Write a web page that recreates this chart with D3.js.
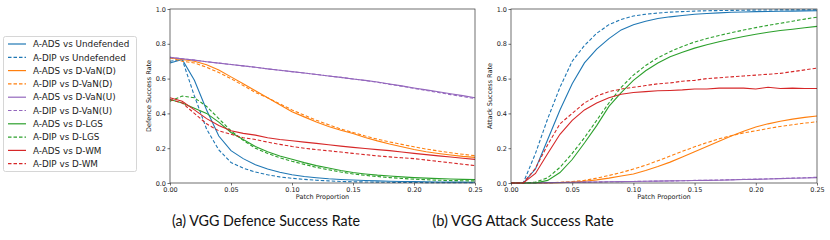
<!DOCTYPE html>
<html>
<head>
<meta charset="utf-8">
<script src="https://cdn.jsdelivr.net/npm/d3@7"></script>
<style>
body { margin: 0; background: #fff; }
.axis text { font-family: "DejaVu Sans", sans-serif; font-size: 6.5px; fill: #222; }
.axis path { display: none; }
.axis line { stroke: #333; stroke-width: 0.7; }
</style>
</head>
<body>
<div class="chart"></div>
<script>
// patch proportion (x values)
var patch = [0, 0.01, 0.02, 0.03, 0.04, 0.05, 0.06, 0.07, 0.08, 0.09, 0.10, 0.11, 0.12,
             0.13, 0.14, 0.15, 0.16, 0.17, 0.18, 0.19, 0.20, 0.21, 0.22, 0.23, 0.24, 0.25];

var seriesNames = ["A-ADS vs Undefended", "A-DIP vs Undefended", "A-ADS vs D-VaN(D)", "A-DIP vs D-VaN(D)",
    "A-ADS vs D-VaN(U)", "A-DIP vs D-VaN(U)", "A-ADS vs D-LGS", "A-DIP vs D-LGS", "A-ADS vs D-WM", "A-DIP vs D-WM"];
var seriesColors = ["#1f77b4", "#1f77b4", "#ff7f0e", "#ff7f0e", "#9467bd", "#9467bd",
    "#2ca02c", "#2ca02c", "#d62728", "#d62728"];
var seriesDashed = [false, true, false, true, false, true, false, true, false, true];

var xTicks = [0, 0.05, 0.10, 0.15, 0.20, 0.25];
var yTicks = [0, 0.2, 0.4, 0.6, 0.8, 1.0];

// (a) defence success rate
var defAdsUndef = [0.69, 0.71, 0.59, 0.42, 0.27, 0.186, 0.14, 0.105, 0.08, 0.062, 0.047, 0.037, 0.03, 0.024, 0.02, 0.017, 0.014, 0.012, 0.01, 0.009, 0.008, 0.007, 0.006, 0.005, 0.005, 0.004];
var defDipUndef = [0.70, 0.71, 0.50, 0.31, 0.19, 0.118, 0.085, 0.063, 0.047, 0.035, 0.027, 0.021, 0.016, 0.012, 0.009, 0.007, 0.006, 0.005, 0.004, 0.003, 0.003, 0.002, 0.002, 0.002, 0.002, 0.002];
var defAdsVanD = [0.72, 0.71, 0.70, 0.68, 0.65, 0.61, 0.57, 0.53, 0.49, 0.45, 0.41, 0.38, 0.35, 0.325, 0.303, 0.285, 0.262, 0.242, 0.224, 0.208, 0.193, 0.18, 0.17, 0.161, 0.153, 0.147];
var defDipVanD = [0.72, 0.70, 0.69, 0.665, 0.635, 0.60, 0.56, 0.52, 0.49, 0.455, 0.42, 0.39, 0.36, 0.335, 0.31, 0.29, 0.27, 0.252, 0.236, 0.222, 0.208, 0.195, 0.184, 0.174, 0.165, 0.157];
var defAdsVanU = [0.722, 0.714, 0.706, 0.697, 0.689, 0.681, 0.673, 0.665, 0.656, 0.648, 0.640, 0.632, 0.624, 0.615, 0.607, 0.598, 0.590, 0.580, 0.569, 0.558, 0.546, 0.535, 0.524, 0.513, 0.502, 0.49];
var defDipVanU = [0.722, 0.714, 0.706, 0.697, 0.689, 0.681, 0.673, 0.665, 0.656, 0.648, 0.640, 0.632, 0.624, 0.615, 0.607, 0.598, 0.589, 0.579, 0.567, 0.556, 0.544, 0.532, 0.520, 0.508, 0.497, 0.485];
var defAdsLGS = [0.48, 0.46, 0.43, 0.40, 0.35, 0.29, 0.25, 0.21, 0.18, 0.155, 0.136, 0.117, 0.10, 0.086, 0.072, 0.06, 0.052, 0.045, 0.04, 0.035, 0.031, 0.028, 0.025, 0.023, 0.021, 0.02];
var defDipLGS = [0.47, 0.50, 0.49, 0.44, 0.37, 0.30, 0.245, 0.20, 0.17, 0.145, 0.125, 0.107, 0.09, 0.076, 0.063, 0.052, 0.044, 0.037, 0.031, 0.026, 0.022, 0.019, 0.016, 0.014, 0.013, 0.012];
var defAdsWM = [0.49, 0.47, 0.42, 0.37, 0.33, 0.30, 0.285, 0.275, 0.26, 0.25, 0.243, 0.235, 0.228, 0.22, 0.212, 0.205, 0.198, 0.192, 0.186, 0.178, 0.17, 0.163, 0.156, 0.149, 0.142, 0.136];
var defDipWM = [0.48, 0.46, 0.40, 0.34, 0.30, 0.28, 0.26, 0.25, 0.235, 0.222, 0.21, 0.2, 0.192, 0.185, 0.178, 0.17, 0.163, 0.156, 0.15, 0.145, 0.14, 0.132, 0.124, 0.116, 0.108, 0.10];

// (b) attack success rate
var attAdsUndef = [0, 0, 0.08, 0.25, 0.42, 0.57, 0.69, 0.77, 0.83, 0.88, 0.91, 0.93, 0.945, 0.955, 0.963, 0.97, 0.974, 0.978, 0.981, 0.983, 0.985, 0.986, 0.987, 0.988, 0.989, 0.99];
var attDipUndef = [0, 0, 0.17, 0.37, 0.55, 0.70, 0.79, 0.86, 0.91, 0.94, 0.96, 0.97, 0.977, 0.982, 0.985, 0.988, 0.99, 0.991, 0.992, 0.993, 0.994, 0.994, 0.995, 0.995, 0.995, 0.995];
var attAdsVanD = [0, 0, 0, 0.001, 0.002, 0.005, 0.01, 0.018, 0.028, 0.04, 0.052, 0.072, 0.095, 0.12, 0.15, 0.18, 0.21, 0.24, 0.27, 0.298, 0.322, 0.34, 0.355, 0.367, 0.377, 0.385];
var attDipVanD = [0, 0, 0, 0.002, 0.004, 0.008, 0.015, 0.028, 0.043, 0.06, 0.08, 0.102, 0.128, 0.155, 0.182, 0.208, 0.232, 0.254, 0.272, 0.288, 0.30, 0.313, 0.325, 0.335, 0.344, 0.352];
var attAdsVanU = [0, 0, 0.001, 0.002, 0.003, 0.004, 0.005, 0.006, 0.007, 0.008, 0.009, 0.01, 0.011, 0.012, 0.013, 0.014, 0.015, 0.016, 0.018, 0.02, 0.021, 0.023, 0.025, 0.027, 0.029, 0.031];
var attDipVanU = [0, 0, 0.001, 0.002, 0.003, 0.004, 0.005, 0.006, 0.007, 0.008, 0.009, 0.01, 0.011, 0.012, 0.013, 0.015, 0.016, 0.017, 0.019, 0.021, 0.022, 0.024, 0.026, 0.028, 0.030, 0.033];
var attAdsLGS = [0, 0, 0, 0.015, 0.06, 0.135, 0.23, 0.33, 0.44, 0.52, 0.59, 0.645, 0.69, 0.725, 0.752, 0.775, 0.795, 0.812, 0.828, 0.842, 0.855, 0.866, 0.876, 0.884, 0.892, 0.90];
var attDipLGS = [0, 0, 0.005, 0.03, 0.09, 0.17, 0.26, 0.36, 0.46, 0.55, 0.62, 0.675, 0.72, 0.755, 0.785, 0.81, 0.83, 0.848, 0.864, 0.879, 0.893, 0.906, 0.918, 0.93, 0.942, 0.953];
var attAdsWM = [0, 0, 0.055, 0.17, 0.28, 0.36, 0.42, 0.46, 0.49, 0.51, 0.52, 0.525, 0.53, 0.532, 0.535, 0.54, 0.54, 0.545, 0.545, 0.545, 0.54, 0.55, 0.543, 0.545, 0.543, 0.543];
var attDipWM = [0, 0, 0.085, 0.22, 0.34, 0.40, 0.46, 0.50, 0.525, 0.54, 0.55, 0.56, 0.57, 0.575, 0.585, 0.59, 0.60, 0.605, 0.61, 0.615, 0.62, 0.625, 0.63, 0.64, 0.65, 0.66];

var defSeries = [defAdsUndef, defDipUndef, defAdsVanD, defDipVanD, defAdsVanU, defDipVanU, defAdsLGS, defDipLGS, defAdsWM, defDipWM];
var attSeries = [attAdsUndef, attDipUndef, attAdsVanD, attDipVanD, attAdsVanU, attDipVanU, attAdsLGS, attDipLGS, attAdsWM, attDipWM];

var svg = d3.select(".chart").append("svg")
    .attr("width", 830)
    .attr("height", 240);

var plotTop = 9, plotBottom = 183;

function panel(left, right, series, ylabel, caption, captionX) {
    var x = d3.scaleLinear().domain([0, 0.25]).range([left, right]);
    var y = d3.scaleLinear().domain([0, 1]).range([plotBottom, plotTop]);

    var line = d3.line()
        .x(function(d, i) { return x(patch[i]); })
        .y(function(d) { return y(d); });

    series.forEach(function(s, k) {
        svg.append("path")
            .attr("d", line(s))
            .attr("fill", "none")
            .attr("stroke", seriesColors[k])
            .attr("stroke-width", 1.1)
            .attr("stroke-dasharray", seriesDashed[k] ? "3.5,2" : null);
    });

    svg.append("rect")   // frame
        .attr("x", left).attr("y", plotTop)
        .attr("width", right - left).attr("height", plotBottom - plotTop)
        .attr("fill", "none").attr("stroke", "#333").attr("stroke-width", 0.7);

    svg.append("g")
        .attr("class", "axis")
        .attr("transform", "translate(0," + plotBottom + ")")
        .call(d3.axisBottom(x).tickValues(xTicks).tickFormat(d3.format(".2f")).tickSize(2.5).tickPadding(1.5));
    svg.append("g")
        .attr("class", "axis")
        .attr("transform", "translate(" + left + ",0)")
        .call(d3.axisLeft(y).tickValues(yTicks).tickFormat(d3.format(".1f")).tickSize(2.5).tickPadding(1.5));

    svg.append("text")
        .attr("x", (left + right) / 2).attr("y", 199)
        .attr("text-anchor", "middle")
        .style("font-family", "DejaVu Sans").style("font-size", "6.5px").style("fill", "#222")
        .text("Patch Proportion");
    svg.append("text")
        .attr("transform", "translate(" + (left - 19) + "," + ((plotTop + plotBottom) / 2) + ") rotate(-90)")
        .attr("text-anchor", "middle")
        .style("font-family", "DejaVu Sans").style("font-size", "6.5px").style("fill", "#222")
        .text(ylabel);

    svg.append("text")
        .attr("x", captionX).attr("y", 226)
        .attr("text-anchor", "middle")
        .attr("textLength", caption.length * 6.72)
        .attr("lengthAdjust", "spacingAndGlyphs")
        .style("font-family", "Lato").style("font-size", "16px").style("fill", "#111")
        .text(caption);
}

panel(170, 475, defSeries, "Defence Success Rate", "(a) VGG Defence Success Rate", 266);
panel(511, 817, attSeries, "Attack Success Rate", "(b) VGG Attack Success Rate", 523);

// legend
var legend = svg.append("g");
legend.append("rect")
    .attr("x", 3.5).attr("y", 36.5).attr("width", 133).attr("height", 135)
    .attr("rx", 2).attr("fill", "#fff").attr("stroke", "#ccc").attr("stroke-width", 0.8);
seriesNames.forEach(function(name, k) {
    var ly = 44 + k * 13.3;
    legend.append("line")
        .attr("x1", 8).attr("x2", 26).attr("y1", ly).attr("y2", ly)
        .attr("stroke", seriesColors[k]).attr("stroke-width", 1.2)
        .attr("stroke-dasharray", seriesDashed[k] ? "3.5,2" : null);
    legend.append("text")
        .attr("x", 33).attr("y", ly + 3.2)
        .style("font-family", "DejaVu Sans").style("font-size", "8.8px").style("fill", "#222")
        .text(name);
});
</script>
</body>
</html>
